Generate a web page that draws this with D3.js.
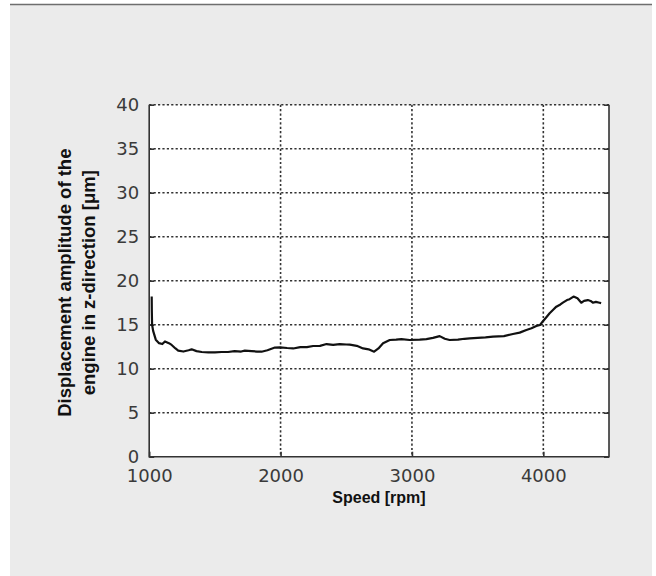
<!DOCTYPE html>
<html>
<head>
<meta charset="utf-8">
<script src="https://cdn.jsdelivr.net/npm/d3@7/dist/d3.min.js"></script>
<style>
  body { margin: 0; background: #fff; }
  svg { display: block; }
</style>
</head>
<body>
<svg></svg>
<script>
var width = 656;
var height = 576;
var margin = { top: 104.7, right: 47, bottom: 119.3, left: 149.2 };
var plotW = width - margin.left - margin.right;
var plotH = height - margin.top - margin.bottom;

// values
var speed = [1019, 1020, 1022, 1030, 1050, 1075, 1100, 1120, 1150, 1171, 1200, 1221, 1260, 1300, 1323, 1360,
	1400, 1450, 1500, 1551, 1600, 1650, 1700, 1728, 1780, 1820, 1855, 1900, 1957, 1995, 2050, 2096,
	2150, 2200, 2248, 2300, 2350, 2400, 2450, 2500, 2527, 2580, 2628, 2670, 2712, 2745, 2780, 2831,
	2880, 2920, 2983, 3059, 3110, 3160, 3211, 3250, 3287, 3350, 3400, 3440, 3500, 3560, 3617, 3700,
	3769, 3820, 3871, 3910, 3947, 3975, 3997, 4020, 4048, 4075, 4099, 4130, 4149, 4180, 4200, 4230,
	4260, 4289, 4310, 4339, 4360, 4377, 4400, 4428, 4440];
var amplitude = [18.2, 16.5, 15.0, 14.3, 13.3, 12.9, 12.8, 13.1, 12.9, 12.7, 12.3, 12.05, 11.95, 12.1, 12.2, 12.0,
	11.9, 11.86, 11.85, 11.9, 11.9, 12.0, 11.95, 12.05, 12.0, 11.95, 11.93, 12.1, 12.4, 12.43, 12.35, 12.3,
	12.45, 12.45, 12.58, 12.6, 12.8, 12.7, 12.8, 12.75, 12.73, 12.6, 12.3, 12.2, 11.93, 12.3, 12.9, 13.26,
	13.3, 13.37, 13.26, 13.3, 13.37, 13.5, 13.7, 13.4, 13.26, 13.3, 13.4, 13.45, 13.5, 13.55, 13.64, 13.7,
	13.94, 14.1, 14.4, 14.6, 14.85, 14.97, 15.4, 15.8, 16.3, 16.7, 17.05, 17.3, 17.5, 17.8, 17.9, 18.2,
	18.0, 17.5, 17.7, 17.8, 17.7, 17.5, 17.6, 17.5, 17.45];

var xTicks = [1000, 2000, 3000, 4000];
var yTicks = [0, 5, 10, 15, 20, 25, 30, 35, 40];

var svg = d3.select('svg')
	.attr('width', width)
	.attr('height', height);

// page frame: gray panel with a rule on top
svg.append('rect')
	.attr('x', 10).attr('y', 5)
	.attr('width', 642).attr('height', height - 5)
	.attr('fill', '#ebebeb');
svg.append('line')
	.attr('x1', 10).attr('x2', 652)
	.attr('y1', 4.5).attr('y2', 4.5)
	.attr('stroke', '#6e6e6e')
	.attr('stroke-width', 1.5);

var g = svg.append('g')
	.attr('transform', `translate(${margin.left},${margin.top})`);

var x = d3.scaleLinear()
	.domain([1000, 4500])
	.range([0, plotW]);

var y = d3.scaleLinear()
	.domain([0, 40])
	.range([plotH, 0]);

g.append('rect')
	.attr('width', plotW)
	.attr('height', plotH)
	.attr('fill', '#fff');

// dotted grid
g.selectAll('.gy')
	.data(yTicks.filter(function(d) { return d > 0; }))
	.enter().append('line')
	.attr('x1', 0).attr('x2', plotW)
	.attr('y1', function(d) { return y(d); })
	.attr('y2', function(d) { return y(d); })
	.attr('stroke', '#333')
	.attr('stroke-width', 1.6)
	.attr('stroke-dasharray', '2.2,2.2');

g.selectAll('.gx')
	.data(xTicks.filter(function(d) { return d > 1000; }))
	.enter().append('line')
	.attr('y1', 0).attr('y2', plotH)
	.attr('x1', function(d) { return x(d); })
	.attr('x2', function(d) { return x(d); })
	.attr('stroke', '#333')
	.attr('stroke-width', 1.6)
	.attr('stroke-dasharray', '2.2,2.2');

// axes
var yAxis = d3.axisLeft(y)
	.tickValues(yTicks)
	.tickFormat(d3.format('d'))
	.tickSize(-5)
	.tickPadding(10);
var yAxisR = d3.axisRight(y)
	.tickValues(yTicks)
	.tickSize(-5)
	.tickFormat('');
var xAxis = d3.axisBottom(x)
	.tickValues(xTicks)
	.tickFormat(d3.format('d'))
	.tickSize(-5)
	.tickPadding(12.5);

function styleAxis(sel) {
	sel.select('.domain').attr('stroke', '#333').attr('stroke-width', 1.6);
	sel.selectAll('.tick line').attr('stroke', '#333').attr('stroke-width', 1.6);
	sel.selectAll('.tick text')
		.attr('fill', '#3a3a3a')
		.style('font-family', 'DejaVu Sans, sans-serif')
		.style('font-size', '18px');
}

g.append('g').call(yAxis).call(styleAxis);
g.append('g').attr('transform', `translate(${plotW},0)`).call(yAxisR).call(styleAxis);
g.append('g').attr('transform', `translate(0,${plotH})`).call(xAxis).call(styleAxis);
g.selectAll('.domain').attr('d', null);

// frame: solid left, bottom, right
g.append('path')
	.attr('d', `M0,0V${plotH}H${plotW}V0`)
	.attr('fill', 'none')
	.attr('stroke', '#333')
	.attr('stroke-width', 1.6);

// curve
var line = d3.line()
	.x(function(d, i) { return x(speed[i]); })
	.y(function(d) { return y(d); });

g.append('path')
	.attr('d', line(amplitude))
	.attr('fill', 'none')
	.attr('stroke', '#111')
	.attr('stroke-width', 2.2)
	.attr('stroke-linejoin', 'round');

// labels
svg.append('text')
	.attr('x', 379)
	.attr('y', 503)
	.attr('text-anchor', 'middle')
	.style('font-family', 'Liberation Sans, Arial, sans-serif')
	.style('font-weight', 'bold')
	.style('font-size', '16px')
	.attr('fill', '#111')
	.text('Speed [rpm]');

var yl = svg.append('text')
	.attr('transform', `translate(71,${margin.top + plotH / 2 + 2}) rotate(-90)`)
	.attr('text-anchor', 'middle')
	.style('font-family', 'Liberation Sans, Arial, sans-serif')
	.style('font-weight', 'bold')
	.style('font-size', '18.5px')
	.attr('fill', '#111');
yl.append('tspan').attr('x', 0).attr('dy', 0).text('Displacement amplitude of the');
yl.append('tspan').attr('x', 0).attr('dy', 24).text('engine in z-direction [μm]');
</script>
</body>
</html>
